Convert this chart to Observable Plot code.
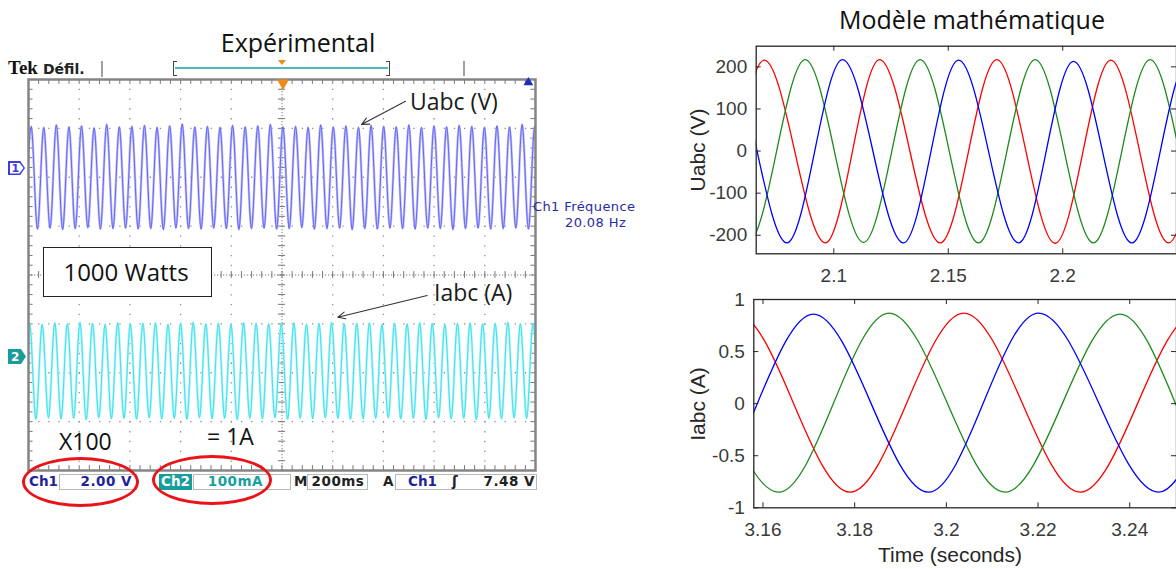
<!DOCTYPE html>
<html><head><meta charset="utf-8">
<script src="https://cdn.jsdelivr.net/npm/d3@7"></script>
<script src="https://cdn.jsdelivr.net/npm/@observablehq/plot@0.6"></script>
<style>
body{margin:0;background:#fff;}
#root{position:relative;width:1176px;height:569px;overflow:hidden;background:#fff;}
.abs{position:absolute;white-space:nowrap;line-height:1;}
.box{position:absolute;box-sizing:border-box;}
</style></head><body><div id="root"></div>
<script>
// ---------------- DATA ----------------
// Right panel, "Modèle mathématique": extremes (time s, value)
const uRedT   = [2.0205, 2.0455, 2.0696, 2.0963, 2.1200, 2.1465, 2.1712, 2.1967, 2.2210, 2.2462, 2.2712, 2.2965];
const uRedV   = [216, -218, 216, -218, 217, -218, 217, -219, 216, -218, 216, -218];
const uGreenT = [2.0125, 2.0375, 2.0625, 2.0875, 2.1130, 2.1377, 2.1632, 2.1880, 2.2134, 2.2382, 2.2635, 2.2885];
const uGreenV = [-218, 216, -218, 217, -217, 217, -218, 217, -218, 217, -218, 217];
const uBlueT  = [2.0285, 2.0535, 2.0795, 2.1038, 2.1304, 2.1545, 2.1807, 2.2047, 2.2302, 2.2550, 2.2805];
const uBlueV  = [-218, 217, -218, 217, -218, 216, -218, 213, -218, 217, -218];

const iRedT   = [3.1300, 3.1543, 3.1790, 3.2038, 3.2292, 3.2543, 3.2790];
const iRedV   = [-0.85, 0.86, -0.85, 0.87, -0.85, 0.86, -0.85];
const iGreenT = [3.1130, 3.1379, 3.1634, 3.1875, 3.2128, 3.2379, 3.2620, 3.2865];
const iGreenV = [-0.85, 0.86, -0.85, 0.87, -0.85, 0.86, -0.85, 0.86];
const iBlueT  = [3.1220, 3.1466, 3.1710, 3.1961, 3.2201, 3.2463, 3.2700, 3.2950];
const iBlueV  = [0.86, -0.85, 0.86, -0.85, 0.87, -0.85, 0.86, -0.85];

const uTicksX = [2.1, 2.15, 2.2];
const uTicksY = [-200, -100, 0, 100, 200];
const iTicksX = [3.16, 3.18, 3.2, 3.22, 3.24];
const iTicksY = [-1, -0.5, 0, 0.5, 1];

// Left panel, oscilloscope (units: screen divisions). Alternating trough/peak levels.
const ch1Start = -0.0715, ch1Half = 0.12415;
const ch1Ext = [0.95,3.04, 0.94,3.02, 0.96,3.07, 0.93,3.03, 0.95,3.05, 0.97,3.01, 0.94,3.08, 0.95,3.03, 0.96,3.04, 0.94,3.06,
  0.95,3.02, 0.93,3.05, 0.96,3.09, 0.95,3.03, 0.94,3.04, 0.96,3.02, 0.95,3.06, 0.93,3.03, 0.95,3.05, 0.96,3.08,
  0.94,3.03, 0.95,3.04, 0.97,3.02, 0.94,3.07, 0.95,3.03, 0.96,3.05, 0.93,3.02, 0.95,3.06, 0.94,3.04, 0.96,3.03,
  0.95,3.07, 0.94,3.02, 0.96,3.05, 0.95,3.03, 0.93,3.06, 0.95,3.04, 0.96,3.02, 0.94,3.05, 0.95,3.03, 0.96,3.08,
  0.94,3.04, 0.95];
const ch2Start = -0.1023, ch2Half = 0.1241;
const ch2Ext = [-2.93,-0.99, -2.95,-1.01, -2.92,-0.98, -2.94,-1.00, -2.93,-0.97, -2.96,-0.99, -2.92,-1.01, -2.94,-0.98, -2.93,-1.00, -2.95,-0.99,
  -2.92,-0.98, -2.94,-1.01, -2.93,-0.99, -2.95,-0.97, -2.92,-1.00, -2.94,-0.99, -2.93,-1.01, -2.96,-0.98, -2.93,-0.99, -2.94,-1.00,
  -2.92,-0.99, -2.95,-0.98, -2.93,-1.01, -2.94,-0.99, -2.92,-0.97, -2.93,-1.00, -2.95,-0.99, -2.94,-0.98, -2.93,-1.01, -2.92,-0.99,
  -2.94,-1.00, -2.93,-0.98, -2.95,-0.99, -2.92,-1.01, -2.94,-0.99, -2.93,-0.98, -2.96,-1.00, -2.93,-0.99, -2.94,-0.97, -2.92,-1.00,
  -2.93,-0.99, -2.95];
// annotation arrows (screen divisions)
const arrowsScope = [
  {x1: 7.436, y1: 3.554, x2: 6.568, y2: 3.078},
  {x1: 7.864, y1: -0.419, x2: 6.101, y2: -0.863}
];

// ---------------- BUILD ----------------
const root = document.getElementById("root");
const pts = (T, V) => T.map((t, i) => ({t, v: V[i]}));
const wave = (start, half, ext) => ext.map((v, i) => ({t: start + i * half, v}));

// Oscilloscope
const divs = d3.range(0, 10.001, 0.2);
const divsY = d3.range(-4, 4.001, 0.2);
const ch1 = wave(ch1Start, ch1Half, ch1Ext);
const ch2 = wave(ch2Start, ch2Half, ch2Ext);
const G = "#8c8c8c";
const scope = Plot.plot({
  width: 690, height: 569, marginLeft: 28, marginRight: 155, marginTop: 79, marginBottom: 99,
  x: {domain: [0, 10], axis: null}, y: {domain: [-4, 4], axis: null},
  style: {background: "transparent", overflow: "visible"},
  marks: [
    Plot.ruleX([1, 2, 3, 4, 6, 7, 8, 9], {stroke: G, strokeWidth: 1.3, strokeDasharray: "1.3,8.48"}),
    Plot.ruleY([-3, -2, -1, 1, 2, 3], {stroke: G, strokeWidth: 1.3, strokeDasharray: "1.3,8.84"}),
    Plot.ruleX([5], {stroke: "#777", strokeDasharray: "1.2,1.8"}),
    Plot.ruleY([0], {stroke: "#777", strokeDasharray: "1.2,1.8"}),
    Plot.ruleX(divs, {x: d => d, y1: -0.07, y2: 0.07, stroke: "#777"}),
    Plot.ruleY(divsY, {y: d => d, x1: 4.93, x2: 5.07, stroke: "#777"}),
    Plot.ruleX(divs, {x: d => d, y1: 4, y2: 3.9, stroke: "#777"}),
    Plot.ruleX(divs, {x: d => d, y1: -4, y2: -3.9, stroke: "#777"}),
    Plot.ruleY(divsY, {y: d => d, x1: 0, x2: 0.09, stroke: "#777"}),
    Plot.ruleY(divsY, {y: d => d, x1: 10, x2: 9.91, stroke: "#777"}),
    Plot.line(ch1, {x: "t", y: "v", curve: "catmull-rom", stroke: "#bdbdff", strokeWidth: 2.4, clip: true}),
    Plot.line(ch1, {x: "t", y: "v", curve: "catmull-rom", stroke: "#5a5af3", strokeWidth: 0.9, clip: true}),
    Plot.line(ch2, {x: "t", y: "v", curve: "catmull-rom", stroke: "#b4f5f9", strokeWidth: 2.4, clip: true}),
    Plot.line(ch2, {x: "t", y: "v", curve: "catmull-rom", stroke: "#30dfeb", strokeWidth: 0.9, clip: true}),
    Plot.frame({stroke: "#858585", strokeWidth: 2.5}),
    Plot.dot([{x: 5.02, y: 4}], {x: "x", y: "y", symbol: "triangle", rotate: 180, r: 4.5, fill: "#f08a1c", stroke: null, dy: 3.5}),
    Plot.dot([{x: 9.86, y: 4}], {x: "x", y: "y", symbol: "triangle", r: 3.6, fill: "#1c2ab8", stroke: null, dy: 3}),
    Plot.arrow(arrowsScope, {x1: "x1", y1: "y1", x2: "x2", y2: "y2", stroke: "#333", strokeWidth: 1.1, headLength: 11, headAngle: 50})
  ]
});
scope.style.position = "absolute"; scope.style.left = "0px"; scope.style.top = "0px";
root.appendChild(scope);

// MATLAB-like subplots
function matlabPlot({left, top, width, height, ml, mr, mt, mb, xDomain, yDomain, xTicks, yTicks, series}) {
  const fw = width - ml - mr, fh = height - mt - mb;
  const ly = 5 * (yDomain[1] - yDomain[0]) / fh;
  const lx = 5 * (xDomain[1] - xDomain[0]) / fw;
  const K = "#262626";
  const p = Plot.plot({
    width, height, marginLeft: ml, marginRight: mr, marginTop: mt, marginBottom: mb,
    x: {domain: xDomain}, y: {domain: yDomain},
    style: {fontFamily: "'Liberation Sans', Arial, sans-serif", fontSize: "19px", color: "#3a3a3a", background: "transparent", overflow: "visible"},
    marks: [
      ...series.map(s => Plot.line(s.data, {x: "t", y: "v", stroke: s.color, strokeWidth: 1.3, curve: "monotone-x", clip: true})),
      Plot.ruleX(xTicks, {x: d => d, y1: yDomain[0], y2: yDomain[0] + ly, stroke: K}),
      Plot.ruleX(xTicks, {x: d => d, y1: yDomain[1], y2: yDomain[1] - ly, stroke: K}),
      Plot.ruleY(yTicks, {y: d => d, x1: xDomain[0], x2: xDomain[0] + lx, stroke: K}),
      Plot.ruleY(yTicks, {y: d => d, x1: xDomain[1], x2: xDomain[1] - lx, stroke: K}),
      Plot.frame({stroke: K, strokeWidth: 1.3}),
      Plot.axisX(xTicks, {tickSize: 0, tickPadding: 15, label: null, tickFormat: d => String(d)}),
      Plot.axisY(yTicks, {tickSize: 0, tickPadding: 9, label: null, tickFormat: d => String(d)})
    ]
  });
  p.style.position = "absolute"; p.style.left = left + "px"; p.style.top = top + "px";
  root.appendChild(p);
}
matlabPlot({left: 690, top: 0, width: 486, height: 290, ml: 65.7, mr: 0, mt: 45.7, mb: 36.7,
  xDomain: [2.0661, 2.2497], yDomain: [-244, 249], xTicks: uTicksX, yTicks: uTicksY,
  series: [{data: pts(uRedT, uRedV), color: "#ff0000"}, {data: pts(uGreenT, uGreenV), color: "#1f8a1f"}, {data: pts(uBlueT, uBlueV), color: "#0000ff"}]});
matlabPlot({left: 690, top: 290, width: 486, height: 279, ml: 63.3, mr: 0, mt: 9, mb: 61.7,
  xDomain: [3.158, 3.2502], yDomain: [-1, 1], xTicks: iTicksX, yTicks: iTicksY,
  series: [{data: pts(iRedT, iRedV), color: "#ff0000"}, {data: pts(iGreenT, iGreenV), color: "#1f8a1f"}, {data: pts(iBlueT, iBlueV), color: "#0000ff"}]});

// ---------------- TEXT & DECORATION ----------------
const ASC = {open: 0.888, dejavu: 0.846, lib: 0.8465, serif: 0.8375};
const FAM = {open: "'Open Sans', sans-serif", dejavu: "'DejaVu Sans', sans-serif", lib: "'Liberation Sans', Arial, sans-serif", serif: "'Liberation Serif', serif"};
function txt(s, {x, base, size, font = "open", color = "#111", weight = "normal", anchor = "start", ls = 0}) {
  const d = document.createElement("div");
  d.className = "abs"; d.textContent = s;
  d.style.left = x + "px"; d.style.top = (base - ASC[font] * size) + "px";
  d.style.fontSize = size + "px"; d.style.fontFamily = FAM[font]; d.style.color = color; d.style.fontWeight = weight;
  if (ls) d.style.letterSpacing = ls + "px";
  if (anchor === "middle") d.style.transform = "translateX(-50%)";
  if (anchor === "end") d.style.transform = "translateX(-100%)";
  root.appendChild(d); return d;
}
function box(x, y, w, h, css) {
  const d = document.createElement("div");
  d.className = "box";
  Object.assign(d.style, {left: x + "px", top: y + "px", width: w + "px", height: h + "px"}, css);
  root.appendChild(d); return d;
}
function vlabel(s, cx, cy, size) {
  const d = document.createElement("div");
  d.className = "abs"; d.textContent = s;
  Object.assign(d.style, {left: cx + "px", top: cy + "px", fontSize: size + "px", fontFamily: FAM.lib, color: "#262626",
    transform: "translate(-50%,-50%) rotate(-90deg)"});
  root.appendChild(d);
}

// Titles
txt("Expérimental", {x: 298, base: 52, size: 25, anchor: "middle"});
txt("Modèle mathématique", {x: 972, base: 29, size: 25, anchor: "middle"});

// Right axis labels
vlabel("Uabc (V)", 697, 150, 21);
vlabel("Iabc (A)", 697, 404, 21);
txt("Time (seconds)", {x: 950, base: 562, size: 21, font: "lib", color: "#262626", anchor: "middle"});

// Scope top bar
txt("Tek", {x: 8, base: 74, size: 19, font: "serif", weight: "bold", color: "#111"});
txt("Défil.", {x: 43, base: 73.5, size: 14, font: "dejavu", weight: "bold", color: "#222"});
box(101, 61, 1.5, 16, {background: "#a0a0a0"});
box(463, 61, 1.5, 15, {background: "#a0a0a0"});
box(173, 61, 4, 15, {border: "1.5px solid #444", borderRight: "none"});
box(386, 61, 4, 15, {border: "1.5px solid #444", borderLeft: "none"});
box(175, 66.5, 213, 2, {background: "#4fb9b9"});
box(278, 60, 0, 0, {borderLeft: "4px solid transparent", borderRight: "4px solid transparent", borderTop: "5px solid #f08a1c"});

// channel markers
box(8, 161, 17, 14, {background: "#3c3ce0", clipPath: "polygon(0 0,72% 0,100% 50%,72% 100%,0 100%)"});
box(9.5, 162.5, 14, 11, {background: "#fff", clipPath: "polygon(0 0,70% 0,100% 50%,70% 100%,0 100%)"});
txt("1", {x: 11.5, base: 172.5, size: 11, font: "dejavu", weight: "bold", color: "#3c3ce0"});
box(8, 349, 18, 15, {background: "#1a9c9c", clipPath: "polygon(0 0,72% 0,100% 50%,72% 100%,0 100%)"});
txt("2", {x: 11, base: 361.5, size: 12, font: "dejavu", weight: "bold", color: "#fff"});

// frequency readout
txt("Ch1 Fréquence", {x: 533, base: 211, size: 13, font: "dejavu", color: "#2a2aa0", ls: 0.4});
txt("20.08 Hz", {x: 565, base: 227, size: 13, font: "dejavu", color: "#2a2aa0", ls: 0.4});

// annotations
txt("Uabc (V)", {x: 410, base: 110, size: 23, color: "#1a1a1a"});
txt("Iabc (A)", {x: 434, base: 301.5, size: 23, color: "#1a1a1a"});
box(43, 247, 169, 50, {border: "1px solid #222", background: "#fff"});
txt("1000 Watts", {x: 126, base: 281, size: 24, anchor: "middle", color: "#111"});
txt("X100", {x: 59, base: 450, size: 23, color: "#111"});
txt("= 1A", {x: 207, base: 445, size: 23, color: "#111"});

// status bar
const SB = 486, SS = 13.5;
txt("Ch1", {x: 29, base: SB, size: SS, font: "dejavu", weight: "bold", color: "#22229a"});
box(59, 474, 78, 15.5, {border: "1px solid #b8b8b8"});
txt("2.00 V", {x: 132, base: SB, size: SS, font: "dejavu", weight: "bold", color: "#22229a", anchor: "end", ls: 0.5});
box(159, 474, 33, 15.5, {background: "#189c9c"});
txt("Ch2", {x: 175.5, base: SB, size: SS, font: "dejavu", weight: "bold", color: "#fff", anchor: "middle"});
box(193, 474, 98, 15.5, {border: "1px solid #b8b8b8"});
txt("100mA", {x: 263, base: SB, size: SS, font: "dejavu", weight: "bold", color: "#179f9f", anchor: "end", ls: 0.5});
txt("M", {x: 294, base: SB, size: SS, font: "dejavu", weight: "bold", color: "#222"});
box(307, 474, 61, 15.5, {border: "1px solid #b8b8b8"});
txt("200ms", {x: 338, base: SB, size: SS, font: "dejavu", weight: "bold", color: "#222", anchor: "middle", ls: 0.5});
txt("A", {x: 383, base: SB, size: SS, font: "dejavu", weight: "bold", color: "#222"});
box(395, 474, 142, 15.5, {border: "1px solid #b8b8b8"});
txt("Ch1", {x: 408, base: SB, size: SS, font: "dejavu", weight: "bold", color: "#22229a"});
txt("ʃ", {x: 452, base: SB, size: SS, font: "dejavu", weight: "bold", color: "#222"});
txt("7.48 V", {x: 535, base: SB, size: SS, font: "dejavu", weight: "bold", color: "#222", anchor: "end", ls: 0.5});

// red highlight ellipses
box(22, 457, 117, 50, {border: "3px solid #e8141a", borderRadius: "50%"});
box(152, 455, 120, 50, {border: "3px solid #e8141a", borderRadius: "50%"});
</script></body></html>
